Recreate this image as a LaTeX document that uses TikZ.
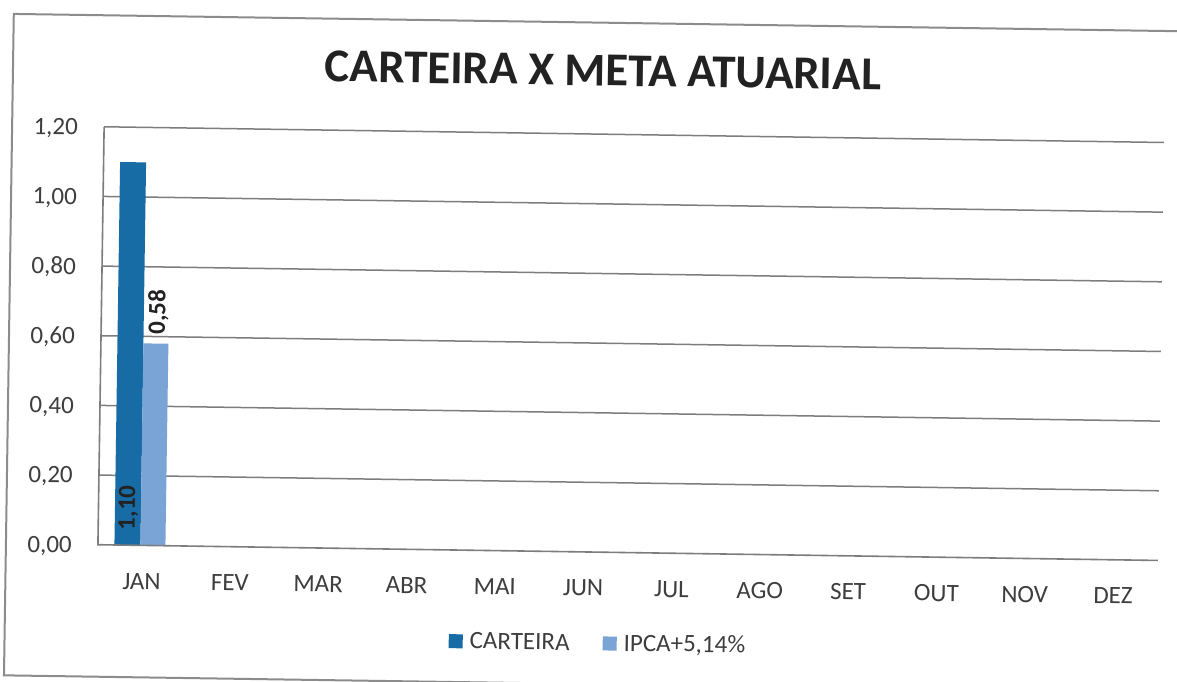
\documentclass[tikz,border=0pt]{standalone}
\usepackage{fontspec}
\setmainfont{Carlito}
\definecolor{serA}{RGB}{24,108,166}
\definecolor{serB}{RGB}{122,164,214}
\definecolor{gridc}{RGB}{125,125,125}
\definecolor{framec}{RGB}{140,140,140}
\definecolor{txt}{RGB}{62,62,62}
\definecolor{titc}{RGB}{34,34,34}
\tikzset{
  gridline/.style={draw=gridc, line width=1.5pt},
  axisline/.style={draw=gridc, line width=1.6pt},
  framebox/.style={draw=framec, line width=2pt},
  ticklab/.style={inner sep=0pt, text=txt, font=\fontsize{25}{30}\selectfont},
  titlelab/.style={inner sep=0pt, text=titc, font=\fontsize{47}{56}\selectfont\bfseries},
  datalab/.style={inner sep=0pt, text=titc, rotate=90, anchor=west, font=\fontsize{25}{30}\selectfont\bfseries},
  legsq/.style={inner sep=0pt, minimum width=14pt, minimum height=14pt},
}
\begin{document}
\begin{tikzpicture}[x=1pt,y=-1pt]
\useasboundingbox (0,0) rectangle (1177,682);
\fill[white] (0,0) rectangle (1177,682);
\clip (0,0) rectangle (1177,682);
\begin{scope}[rotate around={-0.85:(590,340)}, transform shape]
  % outer frame
  \draw[framebox] (9,22.5) rectangle (1190,684);
  % title
  \node[titlelab, anchor=base] (title) at (599,85.5) {CARTEIRA X META ATUARIAL};
  % grid lines and value labels
  \foreach \yy/\lab [count=\i] in {482.33/{0,20}, 412.67/{0,40}, 343/{0,60}, 273.33/{0,80}, 203.67/{1,00}, 134/{1,20}} {
    \draw[gridline] (101,\yy) -- (1161,\yy);
    \node[ticklab, anchor=base east] (yl\i) at (75,\yy+8.5) {\lab};
  }
  \node[ticklab, anchor=base east] (yl0) at (75,560.5) {0,00};
  % bars
  \fill[serA] (117.5,552) rectangle (143.5,169);
  \fill[serB] (143.5,552) rectangle (168.5,350);
  % axes
  \draw[axisline] (101,134) -- (101,552) -- (1161,552);
  % month labels
  \foreach \m [count=\i] in {JAN,FEV,MAR,ABR,MAI,JUN,JUL,AGO,SET,OUT,NOV,DEZ} {
    \node[ticklab, anchor=base] (m\i) at ({101+(\i-0.5)*88.33},596) {\m};
  }
  % data labels
  \node[datalab] (d1) at (131,537) {1,10};
  \node[datalab] (d2) at (158,341) {0,58};
  % legend
  \node[legsq, fill=serA, anchor=north west] (lsqA) at (453,636) {};
  \node[ticklab, anchor=base west] (lgA) at (474,650.5) {CARTEIRA};
  \node[legsq, fill=serB, anchor=north west] (lsqB) at (607,636) {};
  \node[ticklab, anchor=base west] (lgB) at (628,650.5) {IPCA+5,14\%};
\end{scope}
\end{tikzpicture}
\end{document}
